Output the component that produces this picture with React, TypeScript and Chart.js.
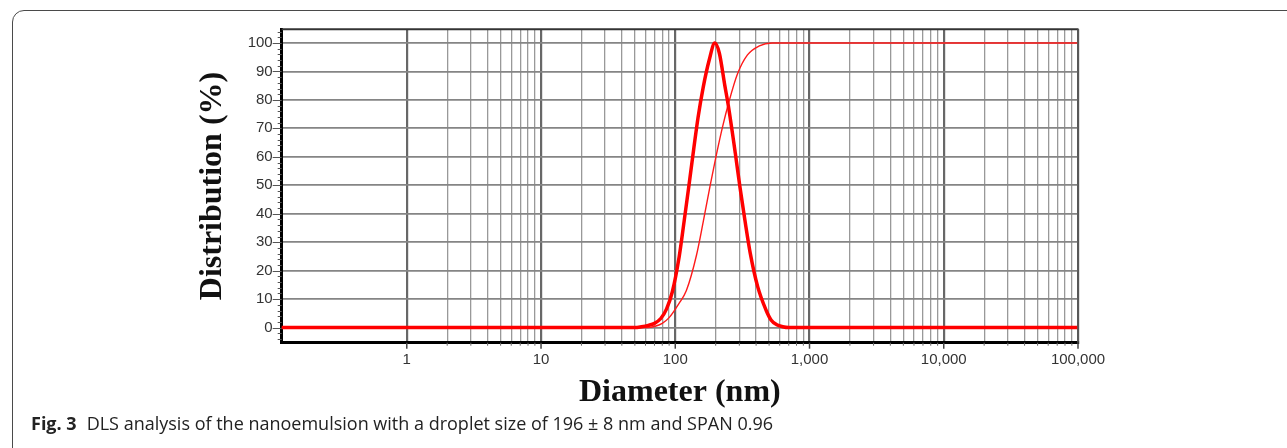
import React, { useEffect, useRef } from 'react';
import { Chart, registerables } from 'chart.js';

Chart.register(...registerables);

// Frequency (differential) distribution, thick curve
const freqDiameters = [0.1, 50, 56, 63, 70, 78, 86, 95, 107, 116.5, 126.5, 137, 148, 161.7, 179, 197, 213, 234, 248, 280, 303, 330, 362, 411, 474, 517, 570, 631, 700, 100000];
const freqValues = [0, 0, 0.3, 0.8, 1.5, 3.2, 6.5, 12.5, 25, 37.5, 50, 62.5, 74, 84.6, 94, 100, 96.4, 85, 78.2, 61.3, 49.5, 37.8, 26.1, 14.4, 6.2, 2.7, 1.0, 0.3, 0, 0];

// Cumulative distribution, thin curve
const cumDiameters = [0.1, 62, 70, 80, 90, 107, 121, 144, 162, 182, 203, 225, 250, 290, 345, 423, 526, 100000];
const cumValues = [0, 0, 0.4, 1.5, 3.5, 8.6, 13, 25.5, 37.5, 50, 61, 70.5, 79, 89, 95.8, 99, 100, 100];

// Axis ticks
const decadeTicks = [1, 10, 100, 1000, 10000, 100000];
const decadeLabels = ['1', '10', '100', '1,000', '10,000', '100,000'];
const minorMultipliers = [2, 3, 4, 5, 6, 7, 8, 9];
const yTicks = [0, 10, 20, 30, 40, 50, 60, 70, 80, 90, 100];
const yMinorTicks = [-4, -2, 2, 4, 6, 8, 12, 14, 16, 18, 22, 24, 26, 28, 32, 34, 36, 38, 42, 44, 46, 48, 52, 54, 56, 58, 62, 64, 66, 68, 72, 74, 76, 78, 82, 84, 86, 88, 92, 94, 96, 98, 102, 104];

const X_MIN = 0.117;
const X_MAX = 100000;
const Y_MIN = -5.3;
const Y_MAX = 104.8;

const xTickValues: number[] = [];
decadeTicks.forEach((d, i) => {
  xTickValues.push(d);
  if (i < decadeTicks.length - 1) minorMultipliers.forEach((m) => xTickValues.push(d * m));
});

const isDecade = (v: number) => decadeTicks.some((d) => Math.abs(d - v) < 1e-9 * d);

const framePlugin = {
  id: 'frame',
  afterDraw(chart: any) {
    const { ctx, chartArea, scales } = chart;
    const { left, right, top, bottom } = chartArea;
    const x = scales.x;
    const y = scales.y;
    ctx.save();
    // top border
    ctx.strokeStyle = '#333';
    ctx.lineWidth = 2;
    ctx.beginPath();
    ctx.moveTo(left, top);
    ctx.lineTo(right + 0.5, top);
    ctx.stroke();
    // right border
    ctx.strokeStyle = '#555';
    ctx.lineWidth = 1.6;
    ctx.beginPath();
    ctx.moveTo(right, top);
    ctx.lineTo(right, bottom);
    ctx.stroke();
    // y tick marks
    ctx.strokeStyle = '#555';
    ctx.lineWidth = 1;
    yTicks.forEach((v) => {
      const py = Math.round(y.getPixelForValue(v)) + 0.5;
      ctx.beginPath();
      ctx.moveTo(left - 9, py);
      ctx.lineTo(left, py);
      ctx.stroke();
    });
    yMinorTicks.forEach((v) => {
      const py = Math.round(y.getPixelForValue(v)) + 0.5;
      ctx.beginPath();
      ctx.moveTo(left - 4, py);
      ctx.lineTo(left, py);
      ctx.stroke();
    });
    // x tick marks
    xTickValues.forEach((v) => {
      const px = x.getPixelForValue(v);
      const major = isDecade(v);
      ctx.strokeStyle = major ? '#444' : '#666';
      ctx.lineWidth = major ? 1.5 : 1;
      ctx.beginPath();
      ctx.moveTo(px, bottom);
      ctx.lineTo(px, bottom + (major ? 6 : 3));
      ctx.stroke();
    });
    ctx.restore();
  },
};

export default function App() {
  const canvasRef = useRef<HTMLCanvasElement | null>(null);

  useEffect(() => {
    document.body.style.margin = '0';
    const canvas = canvasRef.current;
    if (!canvas) return;
    const chart = new Chart(canvas, {
      type: 'line',
      data: {
        datasets: [
          {
            label: 'Frequency',
            data: freqDiameters.map((d, i) => ({ x: d, y: freqValues[i] })),
            borderColor: '#ff0000',
            borderWidth: 3.5,
            pointRadius: 0,
            cubicInterpolationMode: 'monotone',
            fill: false,
          },
          {
            label: 'Cumulative',
            data: cumDiameters.map((d, i) => ({ x: d, y: cumValues[i] })),
            borderColor: '#ff1a1a',
            borderWidth: 1.4,
            pointRadius: 0,
            cubicInterpolationMode: 'monotone',
            fill: false,
          },
        ],
      },
      options: {
        responsive: false,
        animation: false,
        devicePixelRatio: 1,
        layout: { padding: { left: 0, top: 29.3, right: 209, bottom: 0 } },
        plugins: { legend: { display: false }, tooltip: { enabled: false } },
        scales: {
          x: {
            type: 'logarithmic',
            min: X_MIN,
            max: X_MAX,
            afterBuildTicks: (scale: any) => {
              scale.ticks = xTickValues.map((v) => ({ value: v }));
            },
            afterFit: (scale: any) => {
              scale.height = 448 - 342.7;
            },
            ticks: {
              autoSkip: false,
              maxRotation: 0,
              padding: 8,
              color: '#333',
              font: { family: '"Liberation Sans", Arial, sans-serif', size: 15 },
              callback: (value: any) => {
                const idx = decadeTicks.findIndex((d) => Math.abs(d - Number(value)) < 1e-9 * d);
                return idx >= 0 ? decadeLabels[idx] : '';
              },
            },
            grid: {
              drawTicks: false,
              color: (ctx: any) => (ctx.tick && isDecade(ctx.tick.value) ? '#676767' : '#999999'),
              lineWidth: (ctx: any) => (ctx.tick && isDecade(ctx.tick.value) ? 2.2 : 1.3),
            },
            border: { color: '#000', width: 3 },
            title: {
              display: true,
              text: 'Diameter (nm)',
              color: '#111',
              font: { family: '"Liberation Serif", "Times New Roman", serif', size: 32, weight: 'bold' },
              padding: { top: 0, bottom: 36.5 },
            },
          },
          y: {
            type: 'linear',
            min: Y_MIN,
            max: Y_MAX,
            afterBuildTicks: (scale: any) => {
              scale.ticks = yTicks.map((v) => ({ value: v }));
            },
            afterFit: (scale: any) => {
              scale.width = 281.7;
            },
            ticks: {
              padding: 9,
              color: '#333',
              font: { family: '"Liberation Sans", Arial, sans-serif', size: 15 },
              callback: (value: any) => String(value),
            },
            grid: {
              drawTicks: false,
              color: '#858585',
              lineWidth: 1.8,
            },
            border: { color: '#000', width: 3 },
            title: {
              display: true,
              text: 'Distribution (%)',
              color: '#111',
              font: { family: '"Liberation Serif", "Times New Roman", serif', size: 32, weight: 'bold' },
              padding: { top: 193.5, bottom: 0 },
            },
          },
        },
      },
      plugins: [framePlugin],
    } as any);
    return () => chart.destroy();
  }, []);

  return (
    <div style={{ position: 'relative', width: 1287, height: 448, overflow: 'hidden', background: '#fff' }}>
      <div
        style={{
          position: 'absolute',
          left: 12,
          top: 9.5,
          width: 1320,
          height: 520,
          border: '1.5px solid #4a4a4a',
          borderRadius: 12,
          boxSizing: 'border-box',
        }}
      />
      <canvas ref={canvasRef} width={1287} height={448} style={{ position: 'absolute', left: 0, top: 0 }} />
      <div
        style={{
          position: 'absolute',
          left: 31,
          top: 413,
          fontFamily: '"Open Sans", "Noto Sans", sans-serif',
          fontSize: 18,
          lineHeight: '20px',
          color: '#222',
          whiteSpace: 'nowrap',
        }}
      >
        <span style={{ fontWeight: 'bold', marginRight: 10 }}>Fig. 3</span>
        DLS analysis of the nanoemulsion with a droplet size of 196 ± 8 nm and SPAN 0.96
      </div>
    </div>
  );
}
